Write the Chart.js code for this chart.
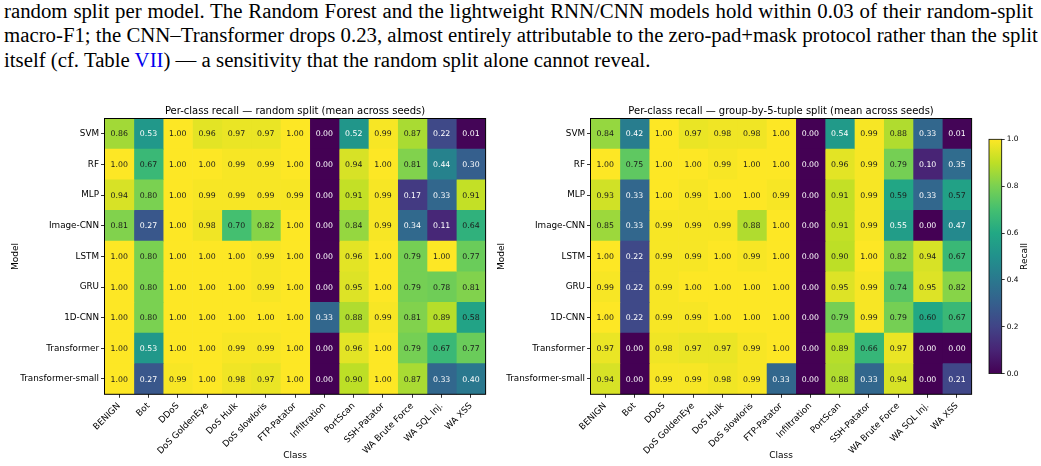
<!DOCTYPE html>
<html><head><meta charset="utf-8">
<script src="https://cdn.jsdelivr.net/npm/chart.js@4.4.1/dist/chart.umd.min.js"></script>
<style>
html,body{margin:0;padding:0;background:#fff;width:1041px;height:466px;overflow:hidden;position:relative}
#para{position:absolute;left:4px;top:-1px;width:1029px;font-family:"Liberation Serif","Times New Roman",serif;font-size:20.8px;line-height:24.4px;color:#000}
#para div{text-align:justify;text-align-last:justify;white-space:nowrap}
#para div.last{text-align-last:left}
canvas{position:absolute}
</style></head><body>
<div id="para">
<div>random split per model. The Random Forest and the lightweight RNN/CNN models hold within 0.03 of their random-split</div>
<div>macro-F1; the CNN–Transformer drops 0.23, almost entirely attributable to the zero-pad+mask protocol rather than the split</div>
<div class="last">itself (cf. Table <span style="color:#0000ee">VII</span>) — a sensitivity that the random split alone cannot reveal.</div>
</div>
<canvas id="c1" width="500" height="376" style="left:0px;top:90px"></canvas>
<canvas id="c2" width="500" height="376" style="left:486px;top:90px"></canvas>
<canvas id="c3" width="81" height="376" style="left:960px;top:90px"></canvas>
<script>
const classes = ['BENIGN','Bot','DDoS','DoS GoldenEye','DoS Hulk','DoS slowloris','FTP-Patator','Infiltration','PortScan','SSH-Patator','WA Brute Force','WA SQL Inj.','WA XSS'];
const models = ['SVM','RF','MLP','Image-CNN','LSTM','GRU','1D-CNN','Transformer','Transformer-small'];

const recallRandom = [
  [0.86,0.53,1.00,0.96,0.97,0.97,1.00,0.00,0.52,0.99,0.87,0.22,0.01],
  [1.00,0.67,1.00,1.00,0.99,0.99,1.00,0.00,0.94,1.00,0.81,0.44,0.30],
  [0.94,0.80,1.00,0.99,0.99,0.99,0.99,0.00,0.91,0.99,0.17,0.33,0.91],
  [0.81,0.27,1.00,0.98,0.70,0.82,1.00,0.00,0.84,0.99,0.34,0.11,0.64],
  [1.00,0.80,1.00,1.00,1.00,0.99,1.00,0.00,0.96,1.00,0.79,1.00,0.77],
  [1.00,0.80,1.00,1.00,1.00,0.99,1.00,0.00,0.95,1.00,0.79,0.78,0.81],
  [1.00,0.80,1.00,1.00,1.00,1.00,1.00,0.33,0.88,0.99,0.81,0.89,0.58],
  [1.00,0.53,1.00,1.00,0.99,0.99,1.00,0.00,0.96,1.00,0.79,0.67,0.77],
  [1.00,0.27,0.99,1.00,0.98,0.97,1.00,0.00,0.90,1.00,0.87,0.33,0.40]
];
const recallGroup = [
  [0.84,0.42,1.00,0.97,0.98,0.98,1.00,0.00,0.54,0.99,0.88,0.33,0.01],
  [1.00,0.75,1.00,1.00,0.99,1.00,1.00,0.00,0.96,0.99,0.79,0.10,0.35],
  [0.93,0.33,1.00,0.99,1.00,1.00,0.99,0.00,0.91,0.99,0.59,0.33,0.57],
  [0.85,0.33,0.99,0.99,0.99,0.88,1.00,0.00,0.91,0.99,0.55,0.00,0.47],
  [1.00,0.22,0.99,0.99,1.00,0.99,1.00,0.00,0.90,1.00,0.82,0.94,0.67],
  [0.99,0.22,0.99,1.00,1.00,1.00,1.00,0.00,0.95,0.99,0.74,0.95,0.82],
  [1.00,0.22,0.99,0.99,1.00,1.00,1.00,0.00,0.79,0.99,0.79,0.60,0.67],
  [0.97,0.00,0.98,0.97,0.97,0.99,1.00,0.00,0.89,0.66,0.97,0.00,0.00],
  [0.94,0.00,0.99,0.99,0.98,0.99,0.33,0.00,0.88,0.33,0.94,0.00,0.21]
];
const colorbarTicks = [0.0,0.2,0.4,0.6,0.8,1.0];

// viridis colormap anchors (0.0 .. 1.0 step 0.1)
const VIRIDIS = [[68,1,84],[72,36,117],[65,68,135],[53,95,141],[42,120,142],[33,145,140],[34,168,132],[68,191,112],[122,209,81],[189,223,38],[253,231,37]];
function viridis(v){
  v = Math.max(0, Math.min(1, v));
  const p = v * 10, i = Math.min(9, Math.floor(p)), t = p - i;
  const a = VIRIDIS[i], b = VIRIDIS[i+1];
  const c = a.map((x,k)=>Math.round(x + (b[k]-x)*t));
  return `rgb(${c[0]},${c[1]},${c[2]})`;
}

Chart.defaults.font.family = '"DejaVu Sans", sans-serif';
Chart.defaults.color = '#000';

const FONT_TICK = {family:'"DejaVu Sans"', size:8.8};
const FONT_AXIS = {family:'"DejaVu Sans"', size:9};

function makeHeatmap(id, title, values){
  const datasets = classes.map((cls, c) => ({
    label: cls,
    data: models.map(() => [c - 0.5, c + 0.5]),
    backgroundColor: models.map((m, r) => viridis(values[r][c])),
    borderWidth: 0,
    grouped: false,
    barPercentage: 1,
    categoryPercentage: 1
  }));
  return new Chart(document.getElementById(id), {
    type: 'bar',
    data: { labels: models, datasets },
    options: {
      indexAxis: 'y',
      responsive: false,
      animation: false,
      events: [],
      layout: { padding: { left: 0, top: 28.5, right: 14.4, bottom: 0 } },
      plugins: { legend: {display:false}, tooltip: {enabled:false}, title: {display:false} },
      scales: {
        x: {
          type: 'linear', min: -0.5, max: 12.5,
          afterBuildTicks: s => { s.ticks = classes.map((_, i) => ({value: i})); },
          afterFit: s => { s.height = 71.7; },
          ticks: { autoSkip: false, minRotation: 45, maxRotation: 45, padding: 3, font: FONT_TICK, color: '#000',
                   callback: v => classes[v] },
          grid: { display: true, drawOnChartArea: false, drawTicks: true, tickLength: 3.5, color: '#000', lineWidth: 0.8 },
          border: { display: false },
          title: { display: true, text: 'Class', font: FONT_AXIS, color: '#000', padding: {top: 0, bottom: 5} }
        },
        y: {
          type: 'category', offset: true,
          afterFit: s => { s.width = 104.5; },
          ticks: { autoSkip: false, padding: 2, font: FONT_TICK, color: '#000' },
          grid: { display: true, offset: false, drawOnChartArea: false, drawTicks: true, tickLength: 3.5, color: '#000', lineWidth: 0.8 },
          border: { display: false },
          title: { display: true, text: 'Model', font: FONT_AXIS, color: '#000', padding: {top: 10, bottom: 0} }
        }
      }
    },
    plugins: [{
      id: 'heatDecor',
      afterDatasetsDraw(chart){
        const ctx = chart.ctx;
        ctx.save();
        ctx.font = '7.8px "DejaVu Sans"';
        ctx.textAlign = 'center';
        ctx.textBaseline = 'middle';
        chart.data.datasets.forEach((ds, c) => {
          chart.getDatasetMeta(c).data.forEach((el, r) => {
            const v = values[r][c];
            ctx.fillStyle = v < 0.56 ? '#ffffff' : '#1a1a1a';
            ctx.fillText(v.toFixed(2), (el.x + el.base) / 2, el.y + 0.5);
          });
        });
        const a = chart.chartArea;
        ctx.strokeStyle = '#000';
        ctx.lineWidth = 1;
        ctx.strokeRect(a.left, a.top, a.right - a.left, a.bottom - a.top);
        ctx.font = '10px "DejaVu Sans"';
        ctx.fillStyle = '#000';
        ctx.textBaseline = 'alphabetic';
        ctx.fillText(title, (a.left + a.right) / 2, a.top - 4.3);
        ctx.restore();
      }
    }]
  });
}

makeHeatmap('c1', 'Per-class recall — random split (mean across seeds)', recallRandom);
makeHeatmap('c2', 'Per-class recall — group-by-5-tuple split (mean across seeds)', recallGroup);

// colorbar
new Chart(document.getElementById('c3'), {
  type: 'bar',
  data: { labels: ['Recall'], datasets: [{
    data: [[colorbarTicks[0], colorbarTicks[colorbarTicks.length-1]]],
    backgroundColor: (ctx) => {
      const chart = ctx.chart, a = chart.chartArea;
      if (!a) return '#888';
      const g = chart.ctx.createLinearGradient(0, a.bottom, 0, a.top);
      VIRIDIS.forEach((c, i) => g.addColorStop(i / (VIRIDIS.length - 1), `rgb(${c[0]},${c[1]},${c[2]})`));
      return g;
    },
    borderWidth: 0, barPercentage: 1, categoryPercentage: 1
  }]},
  options: {
    responsive: false, animation: false, events: [],
    layout: { padding: { left: 29, top: 49.3, right: 0, bottom: 92.4 } },
    plugins: { legend: {display:false}, tooltip: {enabled:false} },
    scales: {
      x: { display: false },
      y: {
        position: 'right', min: 0, max: 1,
        afterBuildTicks: s => { s.ticks = colorbarTicks.map(v => ({value: v})); },
        afterFit: s => { s.width = 39.3; },
        ticks: { padding: 2, font: {family:'"DejaVu Sans"', size: 7.4}, color: '#000', callback: v => Number(v).toFixed(1) },
        grid: { display: true, drawOnChartArea: false, drawTicks: true, tickLength: 3, color: '#000', lineWidth: 0.8 },
        border: { display: false }
      }
    }
  },
  plugins: [{
    id: 'cbDecor',
    afterDatasetsDraw(chart){
      const ctx = chart.ctx, a = chart.chartArea;
      ctx.save();
      ctx.strokeStyle = '#000';
      ctx.lineWidth = 0.8;
      ctx.strokeRect(a.left, a.top, a.right - a.left, a.bottom - a.top);
      ctx.translate(65, (a.top + a.bottom) / 2);
      ctx.rotate(-Math.PI / 2);
      ctx.font = '9px "DejaVu Sans"';
      ctx.fillStyle = '#000';
      ctx.textAlign = 'center';
      ctx.textBaseline = 'middle';
      ctx.fillText('Recall', 0, 0);
      ctx.restore();
    }
  }]
});
</script>
</body></html>
